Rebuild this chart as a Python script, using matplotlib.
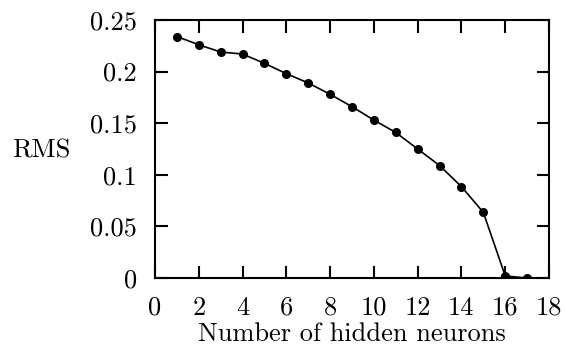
import matplotlib
matplotlib.use("Agg")
import matplotlib.pyplot as plt

plt.rcParams['font.family'] = 'serif'
plt.rcParams['font.serif'] = ['cmr10', 'DejaVu Serif']
plt.rcParams['mathtext.fontset'] = 'cm'
plt.rcParams['axes.formatter.use_mathtext'] = True

# hidden neurons vs RMS error
neurons = [1, 2, 3, 4, 5, 6, 7, 8, 9, 10, 11, 12, 13, 14, 15, 16, 17]
rms = [0.234, 0.226, 0.219, 0.217, 0.208, 0.198, 0.189, 0.178, 0.166,
       0.153, 0.141, 0.125, 0.109, 0.0885, 0.0636, 0.002, 0.0]
xticks = [0, 2, 4, 6, 8, 10, 12, 14, 16, 18]
yticks = [0, 0.05, 0.1, 0.15, 0.2, 0.25]
ytick_labels = ['0', '0.05', '0.1', '0.15', '0.2', '0.25']

fig = plt.figure(figsize=(5.65, 3.47), dpi=100)
ax = fig.add_axes([0.2743, 0.1988, 0.6974, 0.7436])

ax.plot(neurons, rms, color='black', lw=1.2, marker='o', ms=5.5)

ax.set_xlim(0, 18)
ax.set_ylim(0, 0.25)
ax.set_xticks(xticks)
ax.set_xticklabels([str(t) for t in xticks])
ax.set_yticks(yticks)
ax.set_yticklabels(ytick_labels)
ax.tick_params(direction='in', top=True, right=True, length=9, width=1.5,
               labelsize=19)
ax.tick_params(axis='y', pad=13)
ax.tick_params(axis='x', pad=13)
for s in ax.spines.values():
    s.set_linewidth(1.5)

fig.text(0.622, 0.016, 'Number of hidden neurons', fontsize=19,
         ha='center', va='baseline')
fig.text(0.0735, 0.5467, 'RMS', fontsize=19, ha='center', va='baseline')

fig.savefig('out.png', dpi=100)
